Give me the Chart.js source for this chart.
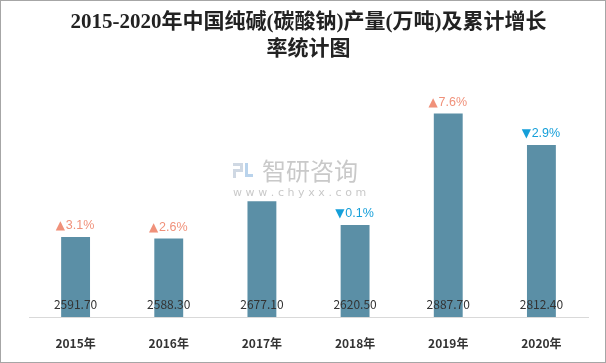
<!DOCTYPE html>
<html><head><meta charset="utf-8">
<script src="https://cdn.jsdelivr.net/npm/chart.js@4"></script>
<style>
html,body{margin:0;padding:0;background:#fff;}
#wrap{width:606px;height:363px;box-sizing:border-box;border:1px solid #a6a6a6;background:#fff;}
canvas{display:block;}
</style></head>
<body><div id="wrap"><canvas id="c" width="604" height="361"></canvas></div>
<script>
const categories = ['2015年','2016年','2017年','2018年','2019年','2020年'];
const production = [2591.70, 2588.30, 2677.10, 2620.50, 2887.70, 2812.40];
const growth = [3.1, 2.6, null, -0.1, 7.6, -2.9];
const titleLines = ['2015-2020年中国纯碱(碳酸钠)产量(万吨)及累计增长', '率统计图'];

const labelPlugin = {
  id: 'labels',
  afterDatasetsDraw(chart) {
    const ctx = chart.ctx;
    const meta = chart.getDatasetMeta(0);
    const bottom = chart.chartArea.bottom;
    ctx.save();
    ctx.textBaseline = 'middle';
    meta.data.forEach((bar, i) => {
      ctx.textAlign = 'center';
      ctx.font = '12px "Noto Sans CJK SC", "Liberation Sans", sans-serif';
      ctx.fillStyle = '#333333';
      ctx.fillText(production[i].toFixed(2), bar.x, bottom - 13);
      const g = growth[i];
      if (g !== null) {
        const up = g >= 0;
        ctx.fillStyle = up ? '#f0917a' : '#159fd9';
        const txt = Math.abs(g).toFixed(1) + '%';
        ctx.font = '12.5px "Liberation Sans", sans-serif';
        const tw = ctx.measureText(txt).width;
        const triW = 9;
        const total = triW + tw;
        const x0 = bar.x - total / 2;
        const cy = bar.y - 11;
        ctx.textAlign = 'left';
        ctx.font = '12px "DejaVu Sans", sans-serif';
        ctx.fillText(up ? '▲' : '▼', x0 - 1, cy);
        ctx.font = '12.5px "Liberation Sans", sans-serif';
        ctx.fillText(txt, x0 + triW, cy);
      }
    });
    ctx.restore();
  }
};

const watermark = {
  id: 'watermark',
  beforeDatasetsDraw(chart) {
    const ctx = chart.ctx;
    ctx.save();
    ctx.fillStyle = '#cfd8e3';
    ctx.fillRect(232, 162, 10, 3);
    ctx.fillRect(239, 162, 3, 7);
    ctx.fillRect(232, 168, 10, 3);
    ctx.fillRect(232, 168, 3, 9);
    ctx.fillStyle = '#b9d3ec';
    ctx.fillRect(244, 162, 3, 12);
    ctx.fillRect(244, 173, 8, 3);
    ctx.fillStyle = '#c9c9c9';
    ctx.font = '24px "Noto Sans CJK SC", sans-serif';
    ctx.textBaseline = 'middle';
    ctx.textAlign = 'left';
    ctx.fillText('智研咨询', 261, 170);
    ctx.font = '11px "DejaVu Sans", sans-serif';
    const s = 'www.chyxx.com';
    let x = 232;
    for (const ch of s) { ctx.fillText(ch, x, 192); x += ctx.measureText(ch).width + 3.6; }
    ctx.restore();
  }
};

new Chart(document.getElementById('c'), {
  type: 'bar',
  data: {
    labels: categories,
    datasets: [{
      data: production,
      backgroundColor: '#5b8fa6',
      borderWidth: 0,
      categoryPercentage: 1,
      barPercentage: 0.31
    }]
  },
  options: {
    responsive: false,
    animation: false,
    layout: { padding: { left: 28, right: 17, top: 0, bottom: 0 } },
    plugins: {
      legend: { display: false },
      tooltip: { enabled: false },
      title: {
        display: true,
        text: titleLines,
        color: '#222222',
        font: { family: '"Liberation Serif", "Noto Sans CJK SC", serif', size: 21, weight: 'bold', lineHeight: 1.3 },
        padding: { top: 8, bottom: 3 }
      }
    },
    scales: {
      x: {
        grid: { display: false, drawTicks: false },
        border: { display: true, color: '#d9d9d9', width: 1 },
        afterFit(scale) { scale.height = 45; },
        ticks: {
          color: '#333333',
          padding: 19,
          font: { family: '"Noto Sans CJK SC", "Liberation Sans", sans-serif', size: 12, weight: 'bold' }
        }
      },
      y: {
        display: false,
        min: 2400,
        max: 3000
      }
    }
  },
  plugins: [watermark, labelPlugin]
});
</script></body></html>
